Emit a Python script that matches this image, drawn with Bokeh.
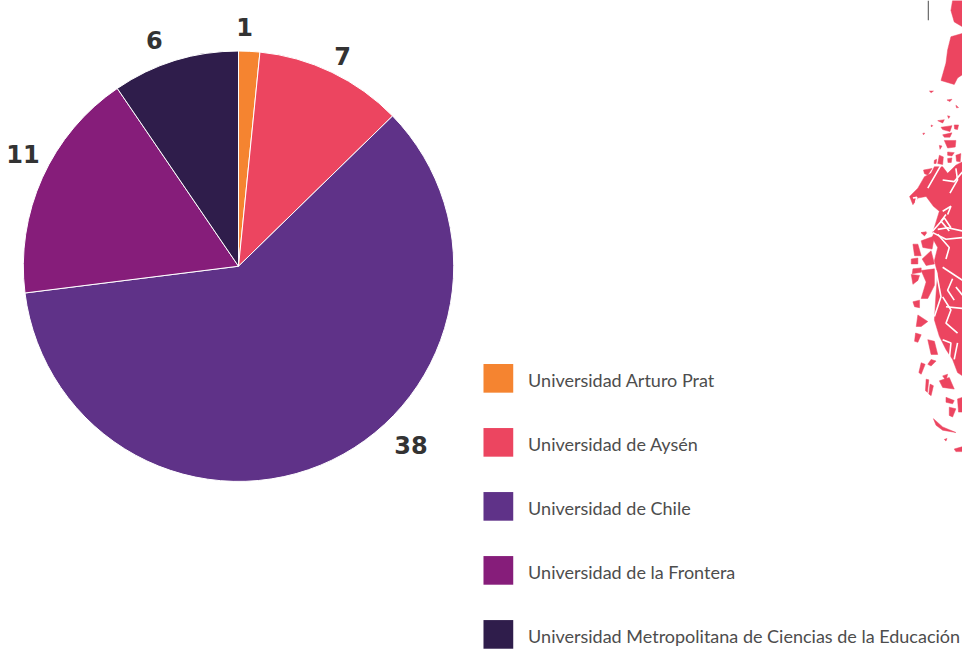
import math
from bokeh.plotting import figure
from bokeh.models import ColumnDataSource, Range1d
from bokeh.core.properties import value
from bokeh.embed import file_html
from bokeh.resources import INLINE

categories = ["Universidad Arturo Prat", "Universidad de Aysén", "Universidad de Chile",
              "Universidad de la Frontera", "Universidad Metropolitana de Ciencias de la Educación"]
values = [1, 7, 38, 11, 6]
colors = ["#F58430", "#EC4560", "#5F3288", "#861D7A", "#2F1D4B"]
label_dx = [-6, -1, 68, 5, -13]
label_dy = [-2, -7, 39, 13, -4]

WHITE = "#ffffff"
PINK = "#EC4560"

# decorative map silhouette, as (x, y) in 3x crops of the page
map_top = [
    [(180,0),(175,30),(185,65),(210,80),(210,0)],
    [(175,110),(165,150),(160,190),(145,243),(185,255),(195,235),(210,225),(210,100)],
    [(110,275),(122,275),(115,280)],
    [(163,302),(178,300),(172,307)], [(190,318),(198,325),(192,326)],
    [(165,350),(172,352),(168,358)], [(135,365),(155,362),(150,372)],
    [(185,378),(198,378),(195,392),(186,390)], [(145,385),(178,380),(172,398),(150,392)],
    [(115,378),(120,380),(116,384)], [(90,403),(96,403),(92,408)],
    [(150,408),(178,402),(172,415),(155,415)], [(155,425),(190,425),(188,445),(165,448)],
    [(140,440),(148,442),(142,452)], [(165,460),(185,462),(178,472),(165,470)],
    [(140,470),(152,475),(150,498),(135,495)], [(125,485),(132,482),(130,495),(124,495)],
    [(190,470),(205,465),(203,490),(192,488)], [(165,480),(178,478),(176,492),(166,492)],
    [(92,515),(118,510),(105,530),(95,526)],
    [(125,505),(150,505),(165,525),(190,500),(210,490),(210,720),(120,705),(140,640),(122,625),(100,595),
     (75,600),(60,620),(50,595),(75,570),(95,535),(115,525)],
    [(85,705),(100,702),(95,712)],
]
map_top_gaps = [
    [(150,545),(185,550),(215,515)], [(105,570),(125,535),(145,500)], [(172,585),(195,545),(190,510)],
    [(60,600),(72,598),(68,612)], [(150,640),(175,625),(165,650)], [(135,695),(165,690),(210,700)],
    [(160,650),(145,670),(170,700)], [(120,700),(155,660),(175,690)],
]
map_low = [
    [(130,0),(118,30),(135,60),(125,100),(135,140),(130,200),(125,280),(140,330),(160,370),(180,400),
     (195,440),(210,450),(210,0)],
    [(60,50),(75,50),(85,85),(65,85)], [(55,95),(75,92),(75,110),(55,110)],
    [(60,125),(85,122),(85,135),(58,140)], [(55,142),(80,145),(75,160),(60,172)],
    [(85,15),(102,15),(95,25)], [(85,40),(125,25),(118,65),(90,60)],
    [(88,95),(115,70),(125,110),(100,115)], [(85,130),(125,125),(125,175),(105,215),(85,215),(100,165)],
    [(60,225),(80,220),(80,243),(65,240)], [(75,265),(105,285),(85,300),(70,300)],
    [(68,320),(85,325),(75,348),(65,345)], [(105,340),(125,345),(135,385),(115,385)],
    [(85,410),(97,415),(85,445),(78,440)], [(115,400),(130,405),(115,420),(105,415)],
    [(100,460),(108,462),(104,500),(98,495)], [(112,475),(122,480),(115,510),(108,505)],
    [(140,465),(170,455),(185,490),(150,485)], [(160,515),(185,525),(180,535),(160,530)],
    [(170,545),(190,550),(180,575),(170,570)], [(122,580),(150,605),(190,622),(150,615),(130,600)],
    [(185,672),(210,665),(210,680),(190,680)], [(155,643),(163,640),(160,648)],
    [(150,450),(165,445),(160,465)], [(195,520),(210,515),(210,560),(198,560)],
]
map_low_gaps = [
    [(150,120),(210,160)], [(180,155),(165,190),(185,220)], [(150,210),(175,250),(160,290),(195,320)],
    [(130,130),(145,210),(125,270)], [(135,20),(170,60),(160,95)], [(160,240),(210,245)],
    [(150,340),(175,350),(170,400)], [(195,350),(185,400)], [(120,15),(160,35),(210,30)],
    [(190,180),(210,205)], [(165,420),(185,450)],
]

total = sum(values)
cum = 0
starts, ends = [], []
for v in values:
    starts.append(math.pi / 2 - 2 * math.pi * cum / total)
    cum += v
    ends.append(math.pi / 2 - 2 * math.pi * cum / total)

W, H = 962, 650
CX, CY, R = 240, 658 - 269, 217

p = figure(width=W, height=H, x_range=Range1d(0, 970), y_range=Range1d(0, 658),
           output_backend="svg", toolbar_location=None, min_border=0)
p.axis.visible = False
p.grid.visible = False
p.outline_line_color = None
p.background_fill_color = WHITE
p.border_fill_color = WHITE


def page(poly, y0):
    return [900 + a / 3 for a, _ in poly], [658 - (y0 + b / 3) for _, b in poly]


polys = [page(q, 0) for q in map_top] + [page(q, 230) for q in map_low]
p.patches([a for a, _ in polys], [b for _, b in polys], fill_color=PINK, line_color=PINK, line_width=0.5)
gaps = [page(q, 0) for q in map_top_gaps] + [page(q, 230) for q in map_low_gaps]
p.multi_line([a for a, _ in gaps], [b for _, b in gaps], line_color=WHITE, line_width=1.6)
p.segment(x0=[935.5], y0=[658], x1=[935.5], y1=[638], line_color="#4a4a4a", line_width=1)

src = ColumnDataSource(dict(s=starts, e=ends, c=colors))
p.wedge(x=CX, y=CY, radius=R, start_angle="s", end_angle="e", direction="clock",
        fill_color="c", line_color=WHITE, line_width=1, source=src)

lx, ly = [], []
for s, e, dx, dy in zip(starts, ends, label_dx, label_dy):
    m = (s + e) / 2
    lx.append(CX + (R + 27) * math.cos(m) + dx)
    ly.append(CY + (R + 27) * math.sin(m) + dy)
p.text(lx, ly, text=[str(v) for v in values], text_align="center", text_baseline="middle",
       text_font=value("DejaVu Sans"), text_font_style="bold", text_font_size="24px", text_color="#333333")

ys = [658 - (382.5 + 64.8 * i) for i in range(len(categories))]
p.rect([502] * 5, ys, width=30, height=29, fill_color=colors, line_color=None)
p.text([532] * 5, [y - 2 for y in ys], text=categories, text_align="left", text_baseline="middle",
       text_font=value("Lato"), text_font_size="18px", text_color="#4d4d4d")

open("out.html", "w").write(file_html(p, INLINE))
